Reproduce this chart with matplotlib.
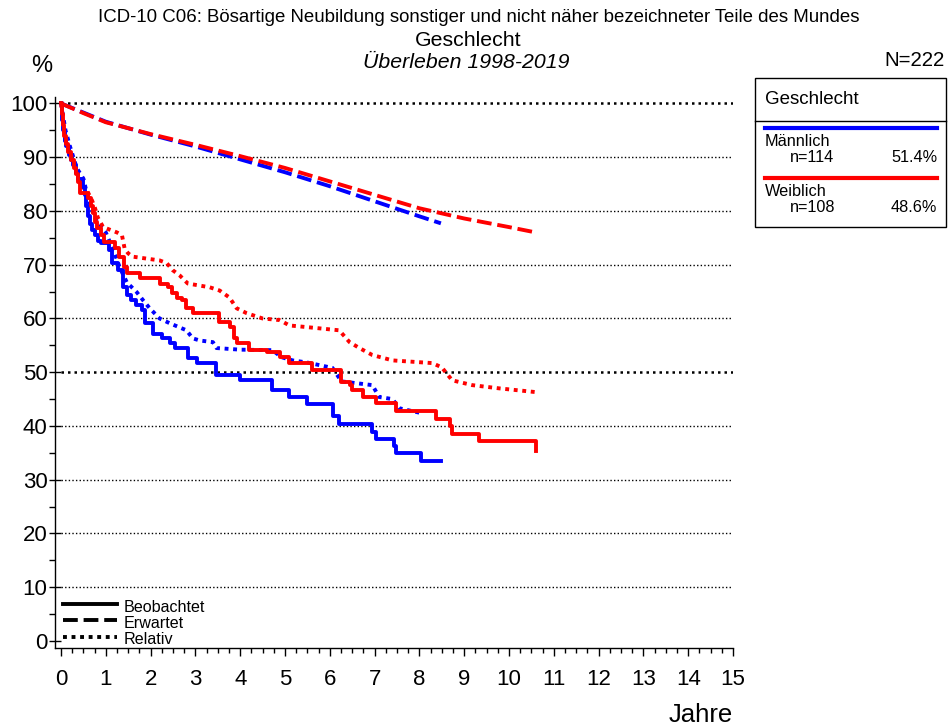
import matplotlib
matplotlib.use("Agg")
import matplotlib.pyplot as plt
from matplotlib.lines import Line2D
from matplotlib.patches import Rectangle

plt.rcParams['font.family'] = ['Liberation Sans', 'DejaVu Sans']

# ---------------- data ----------------
male_obs_t = [0, 0.02, 0.05, 0.08, 0.12, 0.17, 0.22, 0.27, 0.33, 0.38, 0.5, 0.53, 0.56, 0.6,
              0.65, 0.7, 0.76, 0.82, 0.9, 1.08, 1.13, 1.27, 1.38, 1.48, 1.56, 1.68, 1.8, 1.88,
              2.05, 2.25, 2.43, 2.54, 2.83, 3.03, 3.47, 3.99, 4.72, 5.1, 5.48, 6.06, 6.2,
              6.95, 7.02, 7.44, 7.48, 8.04, 8.48]
male_obs_y = [100, 97, 95, 93, 92, 90.5, 89.5, 88.5, 87, 86, 84.5, 83, 81, 79,
              77.5, 76.5, 75.5, 74.5, 74, 72.7, 70.3, 69, 65.8, 64.3, 63.4, 62.5, 61.5, 59.1,
              57.2, 56.3, 55.4, 54.5, 52.6, 51.7, 49.4, 48.5, 46.7, 45.3, 44.0, 41.8, 40.3,
              38.8, 37.6, 36.2, 34.9, 33.4, 33.4]

female_obs_t = [0, 0.02, 0.04, 0.06, 0.1, 0.15, 0.22, 0.28, 0.33, 0.38, 0.42, 0.6, 0.66, 0.71,
                0.76, 0.8, 0.9, 0.96, 1.2, 1.3, 1.4, 1.47, 1.76, 2.22, 2.38, 2.47, 2.6, 2.7,
                2.8, 2.95, 3.52, 3.78, 3.87, 3.92, 4.2, 4.6, 4.88, 5.08, 5.6, 6.25, 6.45, 6.5,
                6.75, 7.02, 7.48, 8.37, 8.68, 8.73, 9.32, 10.6]
female_obs_y = [100, 98, 96, 94, 92.5, 91, 89.5, 88, 86.8, 85.3, 83.4, 82.5, 81, 79.7,
                78, 76.8, 75.5, 74.2, 73.2, 71.4, 69.5, 68.4, 67.5, 66.5, 65.8, 64.7, 63.9, 63.4,
                61.9, 61.0, 59.3, 58.4, 56.3, 55.5, 54.2, 53.7, 52.8, 51.7, 50.4, 48.1, 47.6, 46.7,
                45.4, 44.2, 42.7, 41.3, 40.0, 38.6, 37.3, 35.4]

male_exp_t = [0, 0.5, 1, 2, 3, 4, 5, 6, 7, 8, 8.48]
male_exp_y = [100, 98.3, 96.6, 94.2, 92.0, 89.6, 87.2, 84.6, 81.8, 79.0, 77.7]
female_exp_t = [0, 0.5, 1, 2, 3, 4, 5, 6, 7, 8, 9, 10, 10.6]
female_exp_y = [100, 98.2, 96.5, 94.3, 92.3, 90.2, 88.0, 85.5, 83.0, 80.5, 78.6, 77.0, 76.0]

male_rel_t = [0, 0.1, 0.2, 0.35, 0.5, 0.6, 0.7, 0.8, 0.9, 1.0, 1.1, 1.2, 1.31, 1.47, 1.69,
              1.83, 1.98, 2.2, 2.43, 2.8, 2.94, 3.1, 3.39, 3.47, 3.99, 4.72, 4.92, 5.17, 5.5,
              6.06, 6.26, 6.95, 7.1, 7.4, 7.55, 8.04]
male_rel_y = [100, 95, 92, 88, 86, 82.5, 80, 78, 77, 76, 74, 72, 69.5, 66.7, 64.9,
              63.4, 61.9, 60, 59.1, 57.8, 56.3, 55.9, 55.6, 54.5, 54.2, 54.1, 52.8, 52.2, 51.8,
              50.8, 48.3, 47.6, 45.4, 45.0, 43.3, 42.4]

female_rel_t = [0, 0.1, 0.2, 0.3, 0.4, 0.5, 0.58, 0.69, 0.76, 0.82, 0.94, 1.25, 1.36, 1.42,
                1.5, 1.6, 2.2, 2.36, 2.49, 2.65, 2.83, 3.32, 3.54, 3.76, 3.92, 4.14, 4.5, 4.88,
                5.1, 5.48, 6.21, 6.44, 6.66, 6.95, 7.4, 8.29, 8.5, 8.73, 9.18, 9.78, 10.6]
female_rel_y = [100, 93, 91, 88.5, 85.5, 84.3, 83.8, 82, 80.5, 78.8, 77, 76, 75.5, 73,
                72.1, 71.5, 70.8, 70.3, 69, 68, 66.5, 65.8, 65.2, 63.9, 61.9, 61, 60, 59.7,
                58.7, 58.4, 57.8, 55.6, 54.5, 53.2, 52.2, 51.7, 50.9, 48.5, 47.6, 47.0, 46.3]

x_ticks = list(range(0, 16))
y_ticks = list(range(0, 101, 10))

groups = ["Männlich", "Weiblich"]
group_n = ["n=114", "n=108"]
group_pct = ["51.4%", "48.6%"]
colors = ["#0000FF", "#FF0000"]

W, H = 948, 728
def fx(px): return px / W
def fy(py): return 1 - py / H

fig = plt.figure(figsize=(W / 100, H / 100), dpi=100)
ax = fig.add_axes([fx(55.2), fy(648), fx(733) - fx(55.2), fy(97) - fy(648)])
ax.set_xlim(-0.13, 15)
ax.set_ylim(-1.3, 101.2)

# grid lines
for yv in y_ticks[1:]:
    lw = 1.8 if yv in (50, 100) else 1.0
    ax.hlines(yv, 0, 15, colors='black', linestyles=(0, (1, 1.6)), linewidth=lw, zorder=1)

LW = 2.8
DASH = (0, (3.8, 1.5))
DOT = (0, (1.0, 1.2))
ax.plot(male_exp_t, male_exp_y, color=colors[0], lw=LW, linestyle=DASH, zorder=3)
ax.plot(female_exp_t, female_exp_y, color=colors[1], lw=LW, linestyle=DASH, zorder=3)
ax.plot(male_rel_t, male_rel_y, color=colors[0], lw=LW, linestyle=DOT, zorder=3)
ax.plot(female_rel_t, female_rel_y, color=colors[1], lw=LW, linestyle=DOT, zorder=3)
ax.step(male_obs_t, male_obs_y, where='post', color=colors[0], lw=LW, zorder=4)
ax.step(female_obs_t, female_obs_y, where='post', color=colors[1], lw=LW, zorder=4)

for s in ['top', 'right']:
    ax.spines[s].set_visible(False)
ax.spines['left'].set_linewidth(1.0)
ax.spines['bottom'].set_linewidth(1.0)

ax.set_xticks(x_ticks)
ax.set_xticks([i * 0.25 for i in range(61)], minor=True)
ax.set_yticks(y_ticks)
ax.set_yticks(list(range(5, 100, 10)), minor=True)
ax.tick_params(axis='y', which='major', direction='inout', length=9, width=1.0, labelsize=16, pad=1)
ax.tick_params(axis='y', which='minor', direction='out', length=4, width=1.0)
ax.tick_params(axis='x', which='major', direction='out', length=6, width=1.0, labelsize=16, pad=9)
ax.tick_params(axis='x', which='minor', direction='out', length=3.5, width=1.0)

# texts
fig.text(fx(479), fy(18), "ICD-10 C06: Bösartige Neubildung sonstiger und nicht näher bezeichneter Teile des Mundes",
         ha='center', va='center', fontsize=13.4)
fig.text(fx(468), fy(40), "Geschlecht", ha='center', va='center', fontsize=15.3)
fig.text(fx(466), fy(62), "Überleben 1998-2019", ha='center', va='center', fontsize=15.3, style='italic')
fig.text(fx(42), fy(66), "%", ha='center', va='center', fontsize=17)
fig.text(fx(945), fy(61), "N=222", ha='right', va='center', fontsize=14.7)
fig.text(fx(701), fy(715), "Jahre", ha='center', va='center', fontsize=18.5)

# bottom-left line-type legend
ltypes = [("Beobachtet", '-'), ("Erwartet", DASH), ("Relativ", DOT)]
ly = [604, 620, 637]
ty = [607, 623, 640]
for (lab, ls), yl, yt in zip(ltypes, ly, ty):
    fig.add_artist(Line2D([fx(63), fx(117)], [fy(yl), fy(yl)], color='black', lw=LW, linestyle=ls))
    fig.text(fx(124), fy(yt), lab, ha='left', va='center', fontsize=11.6)

# group legend box
fig.add_artist(Rectangle((fx(755), fy(227)), fx(946) - fx(755), fy(78) - fy(227),
                         fill=False, edgecolor='black', lw=1.0))
fig.add_artist(Line2D([fx(755), fx(946)], [fy(121), fy(121)], color='black', lw=1.0))
fig.text(fx(765), fy(99), "Geschlecht", ha='left', va='center', fontsize=13.5)
base = [128, 178]
for i in range(2):
    b = base[i]
    fig.add_artist(Line2D([fx(765), fx(937)], [fy(b), fy(b)], color=colors[i], lw=3.0))
    fig.text(fx(765), fy(b + 14), groups[i], ha='left', va='center', fontsize=11.7)
    fig.text(fx(790), fy(b + 29), group_n[i], ha='left', va='center', fontsize=11.7)
    fig.text(fx(937), fy(b + 29), group_pct[i], ha='right', va='center', fontsize=11.7)

fig.savefig("out.png", dpi=100)
